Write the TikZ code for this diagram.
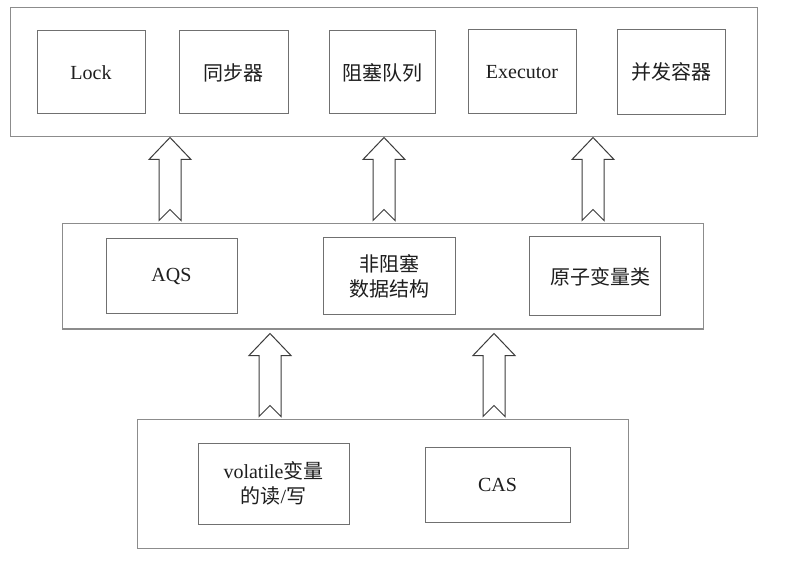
\documentclass[tikz,border=0pt]{standalone}
\usepackage{fontspec}
\setmainfont{Liberation Serif}
\newfontfamily\cjk{Noto Sans CJK SC}
\usetikzlibrary{calc}
\definecolor{outercol}{HTML}{8C8C8C}
\definecolor{innercol}{HTML}{707070}
\definecolor{arrcol}{HTML}{3C3C3C}
\definecolor{txtcol}{HTML}{1E1E1E}
% block arrow: #1 lower node, #2 upper node, #3 x, #4 tip gap, #5 tail gap
\newcommand\blockarr[5]{%
  \draw[blockarrow] let \p1=(#1.north), \p2=(#2.south) in
    (#3,\y2-#4) -- (#3+21,\y2-#4-22) -- (#3+11,\y2-#4-22) -- (#3+11,\y1+#5)
    -- (#3,\y1+#5+11) -- (#3-11,\y1+#5) -- (#3-11,\y2-#4-22) -- (#3-21,\y2-#4-22) -- cycle;}
\begin{document}
\begin{tikzpicture}[x=1pt,y=1pt,
  outerbox/.style={draw=outercol, line width=1pt, inner sep=0pt},
  innerbox/.style={draw=innercol, line width=1pt, inner sep=0pt, align=center,
    text=txtcol, font=\fontsize{20}{25}\selectfont},
  blockarrow/.style={draw=arrcol, line width=1pt, fill=white, line join=miter}]
\useasboundingbox (0,0) rectangle (805,568);
\fill[white] (0,0) rectangle (805,568);
% outer boxes
\node[outerbox, minimum width=747, minimum height=129] (top) at (383.5,495.5) {};
\node[outerbox, minimum width=641, minimum height=105] (mid) at (382.5,291.5) {};
\node[outerbox, minimum width=491, minimum height=129] (low) at (382.5,84.5) {};
% top row
\node[innerbox, minimum width=108, minimum height=83] (lock) at (91,495.5) {Lock};
\node[innerbox, minimum width=109, minimum height=83] (sync) at (233.5,495.5) {\cjk 同步器};
\node[innerbox, minimum width=106, minimum height=83] (bq) at (382,495.5) {\cjk 阻塞队列};
\node[innerbox, minimum width=108, minimum height=84] (exec) at (522,496) {Executor};
\node[innerbox, minimum width=108, minimum height=85] (cc) at (671,496) {\cjk 并发容器};
% middle row
\node[innerbox, minimum width=131, minimum height=75] (aqs) at (171.5,291.5) {AQS};
\node[innerbox, minimum width=132, minimum height=77] (nb) at (389,291.5) {\cjk 非阻塞\\\cjk 数据结构};
\node[innerbox, minimum width=131, minimum height=79] (atom) at (594.5,291.5) {\hspace*{12pt}\cjk 原子变量类};
% lower row
\node[innerbox, minimum width=151, minimum height=81] (vol) at (273.5,84.5) {volatile{\cjk 变量}\\{\cjk 的读}/{\cjk 写}};
\node[innerbox, minimum width=145, minimum height=75] (cas) at (497.5,83.5) {CAS};
% block arrows
\blockarr{mid}{top}{170}{0}{3}
\blockarr{mid}{top}{384}{0}{3}
\blockarr{mid}{top}{593}{0}{3}
\blockarr{low}{mid}{270}{4}{2}
\blockarr{low}{mid}{494}{4}{2}
\end{tikzpicture}
\end{document}
